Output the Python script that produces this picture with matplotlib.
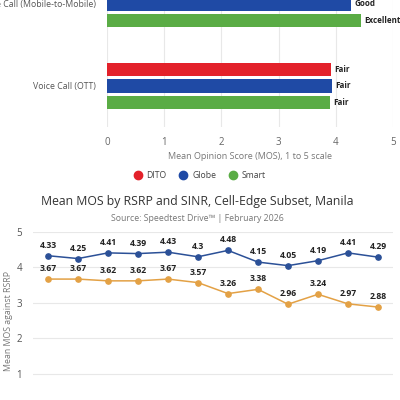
import numpy as np
import matplotlib.pyplot as plt
from matplotlib.lines import Line2D

plt.rcParams['font.family'] = ['Open Sans', 'DejaVu Sans']

# top chart data (voice call MOS by operator)
tests = ["Voice Call (OTT)", "Voice Call (Mobile-to-Mobile)"]
operators = ["DITO", "Globe", "Smart"]
op_colors = ["#e3212a", "#1f4aa5", "#5aac45"]
mos = {
    "DITO": [3.92, 4.05],
    "Globe": [3.93, 4.27],
    "Smart": [3.90, 4.44],
}
grades = {
    "DITO": ["Fair", "Good"],
    "Globe": ["Fair", "Good"],
    "Smart": ["Fair", "Excellent"],
}

# bottom chart data
n_bins = 12
globe_line = [4.33, 4.25, 4.41, 4.39, 4.43, 4.3, 4.48, 4.15, 4.05, 4.19, 4.41, 4.29]
other_line = [3.67, 3.67, 3.62, 3.62, 3.67, 3.57, 3.26, 3.38, 2.96, 3.24, 2.97, 2.88]

fig = plt.figure(figsize=(4, 4), dpi=100)

# ---- top: horizontal bars (cropped at the top of the figure)
ax1 = fig.add_axes([0.2675, 0.6825, 0.715, 0.41])
y = np.arange(len(tests))
for i, op in enumerate(operators):
    off = (1 - i) * 0.2
    ax1.barh(y + off, mos[op], height=0.16, color=op_colors[i], zorder=3)
    for j, v in enumerate(mos[op]):
        ax1.text(v + 0.06, y[j] + off, grades[op][j], va='center', ha='left',
                 fontsize=5.8, fontweight='bold', color='#222222')
ax1.set_xlim(0, 5)
ax1.set_ylim(-0.5, 1.5)
ax1.set_yticks(y)
ax1.set_yticklabels(tests, fontsize=6.3, color='#555555')
ax1.set_xticks(range(6))
ax1.tick_params(axis='x', labelsize=7, colors='#666666', length=0, pad=7)
ax1.tick_params(axis='y', length=0, pad=8)
ax1.grid(axis='x', color='#e8e8e8', linewidth=0.8, zorder=0)
for s in ax1.spines.values():
    s.set_visible(False)
ax1.set_xlabel("Mean Opinion Score (MOS), 1 to 5 scale", fontsize=6.5, color='#777777', labelpad=3)

handles = [Line2D([], [], marker='o', linestyle='none', color=c, markersize=6) for c in op_colors]
fig.legend(handles, operators, loc='center', bbox_to_anchor=(0.5, 0.56), ncol=3,
           frameon=False, fontsize=6.2, handletextpad=0.6, columnspacing=1.6,
           handlelength=0.8, labelcolor='#444444')

# ---- bottom: line chart (cropped at the bottom)
fig.text(0.493, 0.497, "Mean MOS by RSRP and SINR, Cell-Edge Subset, Manila",
         ha='center', va='center', fontsize=8.8, color='#333333')
fig.text(0.493, 0.453, "Source: Speedtest Drive\u2122 | February 2026",
         ha='center', va='center', fontsize=6.3, color='#777777')

ax2 = fig.add_axes([0.0825, -0.0225, 0.9, 0.4425])
x = np.arange(n_bins)
ax2.plot(x, globe_line, color='#2b5097', linewidth=1.1, marker='o', markersize=3.8, zorder=3)
ax2.plot(x, other_line, color='#e3a145', linewidth=1.1, marker='o', markersize=3.8, zorder=3)
for xi, v in zip(x, globe_line):
    ax2.text(xi, v + 0.17, f"{v:g}", ha='center', va='bottom', fontsize=6.2,
             fontweight='bold', color='#222222')
for xi, v in zip(x, other_line):
    ax2.text(xi, v + 0.17, f"{v:g}", ha='center', va='bottom', fontsize=6.2,
             fontweight='bold', color='#222222')
ax2.set_xlim(-0.5, n_bins - 0.5)
ax2.set_ylim(0, 5)
ax2.set_yticks(range(1, 6))
ax2.set_xticks([])
ax2.tick_params(axis='y', labelsize=7, colors='#555555', length=0, pad=8)
ax2.grid(axis='y', color='#e8e8e8', linewidth=0.8, zorder=0)
for s in ax2.spines.values():
    s.set_visible(False)
ax2.set_ylabel("Mean MOS against RSRP", fontsize=6.3, color='#777777', labelpad=2)

fig.savefig("out.png", dpi=100)
